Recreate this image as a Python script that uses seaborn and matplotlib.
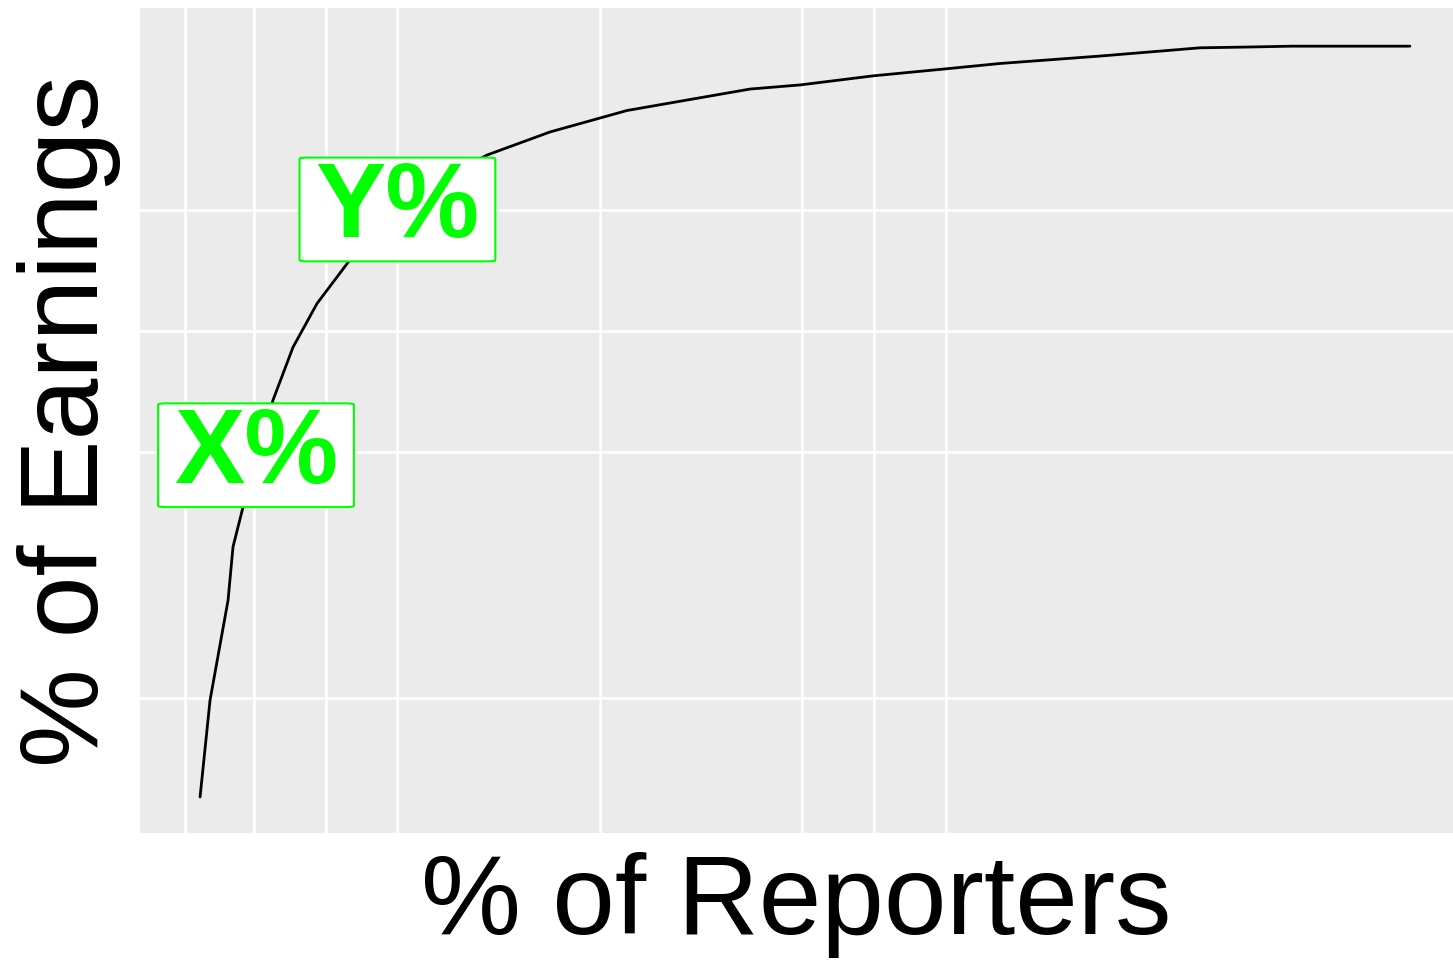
import matplotlib
matplotlib.use("Agg")
import matplotlib.pyplot as plt
import seaborn as sns
import pandas as pd

# Data (in % units)
reporters_pct = [4.57, 5.33, 6.70, 7.08, 7.84, 8.76, 10.13, 11.65, 13.48, 15.99,
                 19.6, 22.5, 26.43, 31.23, 37.09, 46.46, 50.27, 55.83, 61.69,
                 65.50, 73.11, 80.73, 84.54, 87.74, 96.72]
earnings_pct = [4.36, 16.1, 28.2, 34.7, 39.5, 45.8, 52.5, 58.9, 64.2, 69.5,
                75.6, 79.0, 82.2, 85.0, 87.6, 90.2, 90.7, 91.8, 92.7,
                93.3, 94.2, 95.2, 95.3, 95.4, 95.4]

label_texts = ["X%", "Y%"]
label_x = [8.83, 19.6]
label_y = [45.8, 75.6]

x_breaks = [3.43, 8.68, 14.17, 19.57, 35.03, 50.42, 55.9, 61.39]
y_breaks = [16.4, 46.2, 60.85, 75.5]

df = pd.DataFrame({"reporters": reporters_pct, "earnings": earnings_pct})

sns.set_theme(style="darkgrid")
plt.rcParams["font.family"] = ["Liberation Sans", "DejaVu Sans"]

fig = plt.figure(figsize=(14.53, 9.68), dpi=100)
ax = fig.add_axes([0.0964, 0.1395, 0.9036, 0.852])
ax.set_facecolor("#EBEBEB")

sns.lineplot(data=df, x="reporters", y="earnings", ax=ax, color="black",
             linewidth=2.0, sort=False)

for t, lx, ly in zip(label_texts, label_x, label_y):
    ax.text(lx, ly, t, color="#00FF00", fontsize=76, fontweight="bold",
            ha="center", va="center", zorder=5,
            bbox=dict(boxstyle="round,pad=0.15,rounding_size=0.08",
                      mutation_aspect=0.15,
                      facecolor="white", edgecolor="#00FF00", linewidth=1.5))

ax.set_xlim(0, 100)
ax.set_ylim(0, 100)
ax.set_xticks(x_breaks)
ax.set_yticks(y_breaks)
ax.set_xticklabels([])
ax.set_yticklabels([])
ax.tick_params(length=0)
ax.grid(True, color="white", linewidth=1.8)
for s in ax.spines.values():
    s.set_visible(False)

ax.set_xlabel("% of Reporters", fontsize=81, labelpad=10, color="black")
ax.set_ylabel("% of Earnings", fontsize=80, labelpad=10, color="black")

fig.savefig("out.png", dpi=100, facecolor="white")
